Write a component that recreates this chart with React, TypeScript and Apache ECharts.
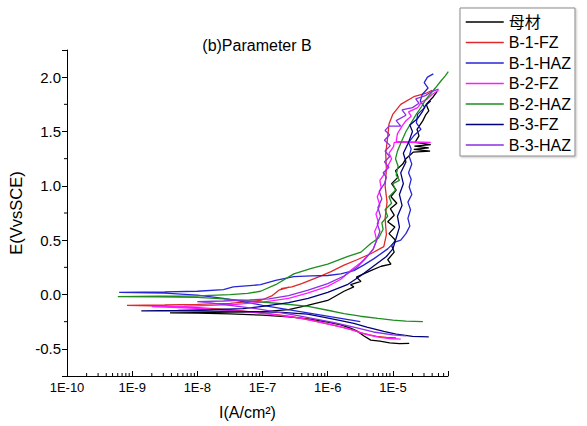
import React, { useEffect, useRef } from 'react';
import * as echarts from 'echarts';

// Series names & colours
const seriesNames = ['母材', 'B-1-FZ', 'B-1-HAZ', 'B-2-FZ', 'B-2-HAZ', 'B-3-FZ', 'B-3-HAZ'];
const seriesColors = ['#000000', '#e02828', '#2626d6', '#ff1aff', '#1e8c1e', '#00007a', '#8c2ee6'];

// Each point: [log10(I / A·cm⁻²), E (V vs SCE)]
const baseMetal = [
  [-4.75, -0.45], [-4.9, -0.452], [-5.05, -0.445], [-5.2, -0.43], [-5.34, -0.42], [-5.45, -0.38], [-5.54, -0.34],
  [-5.65, -0.31], [-5.8, -0.28], [-6.0, -0.255], [-6.3, -0.225], [-6.6, -0.205], [-7.0, -0.19], [-7.5, -0.178],
  [-8.0, -0.172], [-8.42, -0.17], [-8.0, -0.166], [-7.5, -0.163], [-7.03, -0.16], [-6.6, -0.14], [-6.31, -0.1],
  [-6.0, -0.055], [-5.75, 0.03], [-5.6, 0.07], [-5.65, 0.09], [-5.49, 0.12], [-5.56, 0.16], [-5.45, 0.19],
  [-5.34, 0.22], [-5.18, 0.26], [-5.03, 0.28], [-5.08, 0.32], [-4.98, 0.39], [-5.02, 0.45], [-4.96, 0.5],
  [-5.06, 0.56], [-4.97, 0.62], [-5.08, 0.67], [-4.98, 0.73], [-5.04, 0.79], [-4.94, 0.84], [-5.03, 0.9],
  [-4.95, 0.96], [-5.02, 1.02], [-4.92, 1.08], [-4.96, 1.14], [-4.85, 1.2], [-4.8, 1.25], [-4.69, 1.31],
  [-4.43, 1.32], [-4.68, 1.335], [-4.45, 1.35], [-4.67, 1.365], [-4.42, 1.38], [-4.66, 1.4], [-4.6, 1.46],
  [-4.63, 1.52], [-4.54, 1.6], [-4.5, 1.65], [-4.45, 1.69], [-4.49, 1.75], [-4.38, 1.82], [-4.32, 1.87],
];
const b1FZ = [
  [-4.95, -0.4], [-5.1, -0.395], [-5.25, -0.385], [-5.45, -0.36], [-5.6, -0.33], [-5.75, -0.305], [-6.0, -0.27],
  [-6.3, -0.23], [-6.6, -0.2], [-7.0, -0.17], [-7.5, -0.14], [-8.0, -0.12], [-8.5, -0.107], [-9.08, -0.1],
  [-8.5, -0.096], [-8.0, -0.09], [-7.5, -0.082], [-7.03, -0.055], [-6.85, -0.01], [-6.75, 0.04], [-6.6, 0.065],
  [-6.72, 0.055], [-6.55, 0.07], [-6.4, 0.1], [-6.11, 0.17], [-5.95, 0.21], [-5.75, 0.27], [-5.55, 0.32],
  [-5.34, 0.375], [-5.14, 0.44], [-5.1, 0.55], [-5.12, 0.7], [-5.09, 0.85], [-5.12, 1.0], [-5.1, 1.15],
  [-5.11, 1.3], [-5.08, 1.45], [-5.06, 1.57], [-5.0, 1.66], [-4.88, 1.75], [-4.68, 1.82], [-4.5, 1.85], [-4.4, 1.88],
];
const b1HAZ = [
  [-5.5, -0.25], [-5.8, -0.22], [-6.1, -0.19], [-6.4, -0.16], [-6.7, -0.13], [-7.0, -0.1], [-7.3, -0.065],
  [-7.6, -0.035], [-8.0, -0.005], [-8.5, 0.012], [-9.2, 0.02], [-8.5, 0.024], [-8.0, 0.03], [-7.6, 0.045],
  [-7.45, 0.07], [-7.03, 0.09], [-6.8, 0.13], [-6.52, 0.165], [-6.25, 0.172], [-6.0, 0.175], [-5.8, 0.19],
  [-5.6, 0.22], [-5.45, 0.27], [-5.29, 0.33], [-5.08, 0.42], [-4.98, 0.48], [-4.88, 0.5], [-4.8, 0.56],
  [-4.74, 0.63], [-4.77, 0.7], [-4.73, 0.78], [-4.77, 0.85], [-4.71, 0.92], [-4.75, 0.99], [-4.72, 1.06],
  [-4.76, 1.12], [-4.71, 1.2], [-4.75, 1.27], [-4.72, 1.34], [-4.76, 1.4], [-4.68, 1.46], [-4.57, 1.52],
  [-4.64, 1.58], [-4.62, 1.66], [-4.51, 1.72], [-4.58, 1.78], [-4.55, 1.84], [-4.46, 1.9], [-4.52, 1.95],
  [-4.47, 2.0], [-4.38, 2.03],
];
const b2FZ = [
  [-4.88, -0.41], [-5.05, -0.405], [-5.2, -0.395], [-5.35, -0.375], [-5.5, -0.35], [-5.65, -0.32], [-5.9, -0.285],
  [-6.2, -0.245], [-6.5, -0.21], [-6.9, -0.18], [-7.3, -0.155], [-7.8, -0.135], [-8.2, -0.122], [-8.7, -0.112],
  [-8.2, -0.108], [-7.8, -0.1], [-7.4, -0.09], [-7.0, -0.07], [-6.6, -0.035], [-6.3, 0.015], [-6.0, 0.075],
  [-5.8, 0.14], [-5.65, 0.22], [-5.5, 0.29], [-5.38, 0.36], [-5.3, 0.42], [-5.25, 0.5], [-5.28, 0.58],
  [-5.22, 0.66], [-5.26, 0.74], [-5.2, 0.82], [-5.24, 0.9], [-5.18, 0.98], [-5.2, 1.05], [-5.12, 1.12],
  [-5.08, 1.18], [-5.02, 1.25], [-5.06, 1.3], [-4.99, 1.36], [-4.98, 1.4], [-4.42, 1.4], [-4.95, 1.41],
  [-4.93, 1.48], [-4.86, 1.55], [-4.8, 1.6], [-4.72, 1.64], [-4.76, 1.68], [-4.62, 1.72], [-4.56, 1.77],
  [-4.47, 1.8], [-4.4, 1.84], [-4.3, 1.88],
];
const b2HAZ = [
  [-4.54, -0.25], [-4.8, -0.245], [-5.0, -0.235], [-5.23, -0.22], [-5.5, -0.2], [-5.75, -0.175], [-6.0, -0.145],
  [-6.3, -0.11], [-6.7, -0.085], [-7.2, -0.06], [-7.6, -0.04], [-8.0, -0.027], [-8.6, -0.021], [-9.22, -0.02],
  [-8.6, -0.016], [-8.0, -0.012], [-7.5, -0.002], [-7.23, 0.01], [-7.03, 0.03], [-6.8, 0.09], [-6.52, 0.19],
  [-6.25, 0.24], [-6.0, 0.28], [-5.69, 0.35], [-5.49, 0.39], [-5.34, 0.47], [-5.22, 0.52], [-5.15, 0.6],
  [-5.17, 0.66], [-5.08, 0.72], [-5.12, 0.78], [-5.02, 0.84], [-5.06, 0.9], [-4.96, 0.96], [-5.0, 1.02],
  [-4.9, 1.05], [-4.95, 1.1], [-4.92, 1.18], [-4.96, 1.25], [-4.93, 1.32], [-4.86, 1.42], [-4.8, 1.5],
  [-4.72, 1.58], [-4.64, 1.66], [-4.56, 1.73], [-4.5, 1.79], [-4.42, 1.85], [-4.35, 1.9], [-4.27, 1.96],
  [-4.2, 2.01], [-4.15, 2.05],
];
const b3FZ = [
  [-4.45, -0.39], [-4.7, -0.385], [-4.95, -0.365], [-5.14, -0.34], [-5.4, -0.3], [-5.6, -0.265], [-5.8, -0.24],
  [-6.05, -0.21], [-6.31, -0.18], [-6.7, -0.165], [-7.2, -0.157], [-7.8, -0.153], [-8.3, -0.151], [-8.86, -0.15],
  [-8.3, -0.146], [-7.8, -0.14], [-7.3, -0.13], [-7.0, -0.11], [-6.6, -0.075], [-6.3, -0.035], [-6.0, 0.02],
  [-5.7, 0.09], [-5.5, 0.17], [-5.3, 0.26], [-5.1, 0.35], [-5.0, 0.42], [-4.95, 0.52], [-4.9, 0.62],
  [-4.93, 0.72], [-4.86, 0.82], [-4.9, 0.92], [-4.84, 1.02], [-4.88, 1.12], [-4.8, 1.22], [-4.84, 1.3],
  [-4.76, 1.4], [-4.7, 1.5], [-4.74, 1.56], [-4.62, 1.62], [-4.55, 1.68], [-4.5, 1.74], [-4.42, 1.78],
];
const b3HAZ = [
  [-4.8, -0.38], [-5.0, -0.372], [-5.3, -0.345], [-5.6, -0.3], [-5.9, -0.26], [-6.2, -0.225], [-6.5, -0.19],
  [-6.8, -0.16], [-7.1, -0.13], [-7.5, -0.1], [-7.8, -0.078], [-8.0, -0.066], [-7.6, -0.06], [-7.2, -0.05],
  [-6.9, -0.04], [-6.6, -0.01], [-6.3, 0.04], [-6.0, 0.1], [-5.75, 0.17], [-5.55, 0.25], [-5.42, 0.33],
  [-5.3, 0.42], [-5.25, 0.5], [-5.2, 0.58], [-5.24, 0.65], [-5.19, 0.72], [-5.23, 0.8], [-5.17, 0.88],
  [-5.21, 0.95], [-5.13, 1.02], [-5.1, 1.08], [-5.15, 1.12], [-5.06, 1.17], [-5.13, 1.22], [-5.05, 1.27],
  [-5.12, 1.32], [-5.04, 1.37], [-5.13, 1.42], [-5.05, 1.47], [-5.12, 1.51], [-5.06, 1.55], [-4.88, 1.55],
  [-4.95, 1.6], [-4.8, 1.65], [-4.86, 1.7], [-4.7, 1.72], [-4.6, 1.76], [-4.65, 1.8], [-4.5, 1.83],
  [-4.4, 1.87], [-4.3, 1.89],
];
const seriesData = [baseMetal, b1FZ, b1HAZ, b2FZ, b2HAZ, b3FZ, b3HAZ];

// Axes
const xMin = -10;
const xMax = Math.log10(7e-5);
const yMin = -0.75;
const yMax = 2.25;
const yMinorTicks = [-0.25, 0.25, 0.75, 1.25, 1.75];
const xMinorTicks: number[] = [];
for (let d = -10; d <= -5; d++) {
  for (let k = 2; k <= 9; k++) {
    const v = d + Math.log10(k);
    if (v < xMax - 1e-6) xMinorTicks.push(v);
  }
}

const FONT = '"Liberation Sans", Arial, "Noto Sans CJK SC", sans-serif';

export default function App() {
  const ref = useRef<HTMLDivElement>(null);
  useEffect(() => {
    if (!ref.current) return;
    const chart = echarts.init(ref.current, null, { renderer: 'svg' });
    const lineSeries = seriesNames.map((name, i) => ({
      name,
      type: 'line',
      data: seriesData[i],
      symbol: 'none',
      showSymbol: false,
      color: seriesColors[i],
      lineStyle: { width: 1.3, color: seriesColors[i] },
      itemStyle: { color: seriesColors[i] },
      z: 2 + i,
    }));
    chart.setOption({
      animation: false,
      backgroundColor: '#ffffff',
      grid: { left: 67, right: 139, top: 50, bottom: 50, outerBoundsMode: 'none' },
      graphic: [
        {
          type: 'text',
          x: 257,
          y: 45,
          style: {
            text: '(b)Parameter B',
            fontSize: 16,
            fontFamily: FONT,
            fill: '#000',
            align: 'center',
            verticalAlign: 'middle',
          },
        },
      ],
      legend: {
        data: seriesNames,
        orient: 'vertical',
        left: 460,
        top: 8,
        itemWidth: 38,
        itemHeight: 12,
        itemGap: 4.5,
        padding: [6, 4, 3, 5],
        borderColor: '#8c8c8c',
        borderWidth: 1,
        shadowColor: 'rgba(0,0,0,0.25)',
        shadowBlur: 2,
        shadowOffsetX: 1,
        shadowOffsetY: 1,
        backgroundColor: '#fff',
        itemStyle: { opacity: 0 },
        lineStyle: { width: 1.5 },
        textStyle: { fontSize: 16, lineHeight: 16, fontFamily: FONT, color: '#000' },
      },
      xAxis: {
        type: 'value',
        min: xMin,
        max: xMax,
        interval: 1,
        name: 'I(A/cm²)',
        nameLocation: 'middle',
        nameGap: 28,
        nameTextStyle: { fontSize: 16, fontFamily: FONT, color: '#000', padding: [0, 20, 0, 0] },
        axisLine: { show: true, onZero: false, lineStyle: { color: '#000', width: 1 } },
        axisTick: { show: true, inside: true, length: 5, lineStyle: { color: '#000' } },
        axisLabel: {
          margin: 5,
          fontSize: 13,
          fontFamily: FONT,
          color: '#000',
          formatter: (v: number) => (Math.abs(v - Math.round(v)) < 1e-6 ? `1E${Math.round(v)}` : ''),
        },
        splitLine: { show: false },
      },
      yAxis: {
        type: 'value',
        min: yMin,
        max: yMax,
        splitNumber: 6,
        name: 'E(VvsSCE)',
        nameLocation: 'middle',
        nameRotate: 90,
        nameGap: 25,
        nameTextStyle: { fontSize: 16.5, fontFamily: FONT, color: '#000' },
        axisLine: { show: true, onZero: false, lineStyle: { color: '#000', width: 1 } },
        axisTick: { show: true, inside: false, length: 5, lineStyle: { color: '#000' } },
        axisLabel: {
          margin: 6,
          fontSize: 15,
          fontFamily: FONT,
          color: '#000',
          formatter: (v: number) => (Math.abs(v * 2 - Math.round(v * 2)) < 1e-6 ? v.toFixed(1) : ''),
        },
        splitLine: { show: false },
      },
      series: [
        ...lineSeries,
        {
          type: 'custom',
          silent: true,
          clip: false,
          data: xMinorTicks.map((v) => [v, yMin]),
          renderItem: (_p: any, api: any) => {
            const pt = api.coord([api.value(0), yMin]);
            return {
              type: 'line',
              shape: { x1: pt[0], y1: pt[1], x2: pt[0], y2: pt[1] - 3 },
              style: { stroke: '#000', lineWidth: 1 },
            };
          },
          z: 20,
        },
        {
          type: 'custom',
          silent: true,
          clip: false,
          data: yMinorTicks.map((v) => [xMin, v]),
          renderItem: (_p: any, api: any) => {
            const pt = api.coord([xMin, api.value(1)]);
            return {
              type: 'line',
              shape: { x1: pt[0] - 3, y1: pt[1], x2: pt[0], y2: pt[1] },
              style: { stroke: '#000', lineWidth: 1 },
            };
          },
          z: 20,
        },
      ],
    });
    return () => chart.dispose();
  }, []);
  return (
    <div
      ref={ref}
      style={{ position: 'fixed', left: 0, top: 0, width: 587, height: 426, background: '#fff' }}
    />
  );
}
